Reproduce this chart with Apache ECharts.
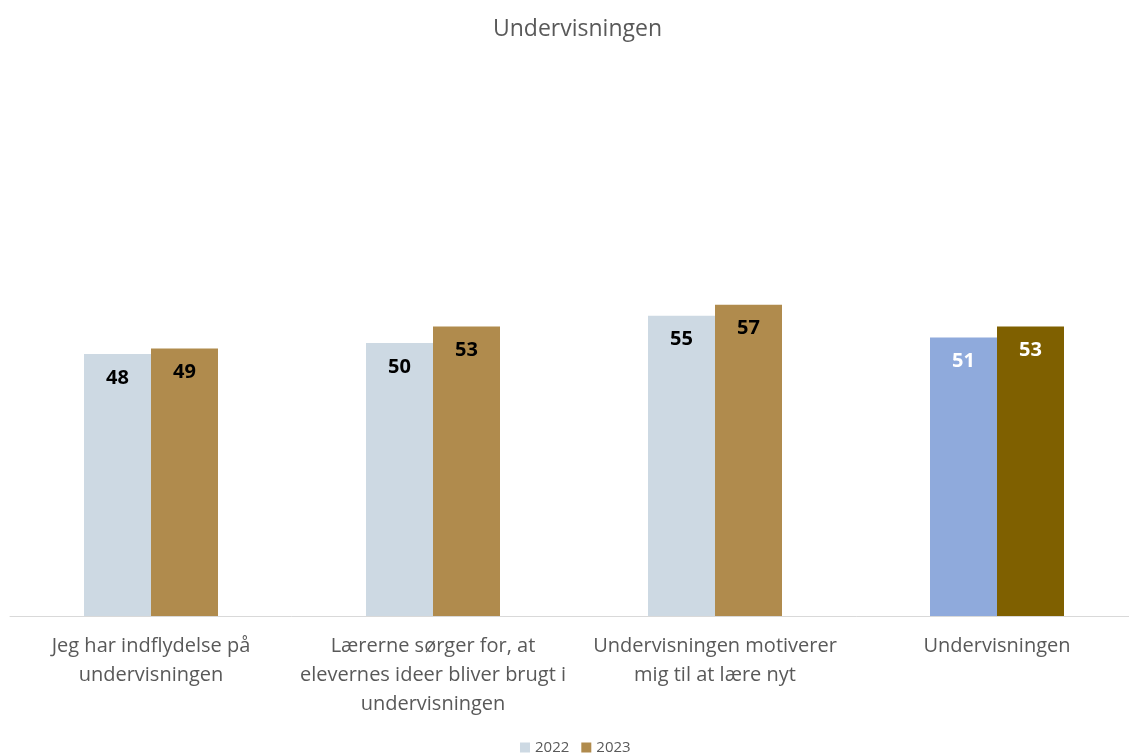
<!DOCTYPE html>
<html><head><meta charset="utf-8">
<script src="https://cdn.jsdelivr.net/npm/echarts@6/dist/echarts.min.js"></script>
<style>html,body{margin:0;padding:0;background:#fff;overflow:hidden}#c{width:1140px;height:755px}</style>
</head><body><div id="c"></div>
<script>
const categories = ["Jeg har indflydelse på\nundervisningen", "Lærerne sørger for, at\nelevernes ideer bliver brugt i\nundervisningen", "Undervisningen motiverer\nmig til at lære nyt", "Undervisningen"];
const seriesNames = ["2022", "2023"];
const values2022 = [48, 50, 55, 51];
const values2023 = [49, 53, 57, 53];
const colors2022 = ["#CDD9E3", "#CDD9E3", "#CDD9E3", "#8FAADC"];
const colors2023 = ["#B08B4D", "#B08B4D", "#B08B4D", "#7F6000"];
const labelColors = ["#000", "#000", "#000", "#fff"];
const font = "Open Sans, Liberation Sans, sans-serif";

function mk(vals, cols) {
  return vals.map((v, i) => ({
    value: v,
    itemStyle: { color: cols[i] },
    label: { color: labelColors[i] }
  }));
}
const chart = echarts.init(document.getElementById('c'));
chart.setOption({
  animation: false,
  title: { text: "Undervisningen", left: 488, top: 13,
    textStyle: { fontFamily: font, fontSize: 23, fontWeight: 'normal', color: '#595959' } },
  legend: { top: 735, left: 515, itemWidth: 10, itemHeight: 10, itemGap: 12,
    icon: 'rect',
    textStyle: { fontFamily: font, fontSize: 15, color: '#595959' },
    data: [{ name: "2022", itemStyle: { color: "#CDD9E3" } }, { name: "2023", itemStyle: { color: "#B08B4D" } }] },
  grid: { left: 10, top: 70, bottom: 139, width: 1128, containLabel: false },
  xAxis: { type: 'category', data: categories,
    axisLine: { lineStyle: { color: '#D9D9D9', width: 1 } },
    axisTick: { show: false },
    axisLabel: { interval: 0, margin: 16, lineHeight: 29, fontSize: 20, fontFamily: font, color: '#595959' } },
  yAxis: { type: 'value', min: 0, max: 100, show: false, splitLine: { show: false } },
  series: [
    { name: seriesNames[0], type: 'bar', barWidth: 67, barGap: '0%', data: mk(values2022, colors2022),
      label: { show: true, position: 'insideTop', distance: 14, fontSize: 20, fontWeight: 'bold', fontFamily: font } },
    { name: seriesNames[1], type: 'bar', barWidth: 67, barGap: '0%', data: mk(values2023, colors2023),
      label: { show: true, position: 'insideTop', distance: 14, fontSize: 20, fontWeight: 'bold', fontFamily: font } }
  ]
});
</script></body></html>
